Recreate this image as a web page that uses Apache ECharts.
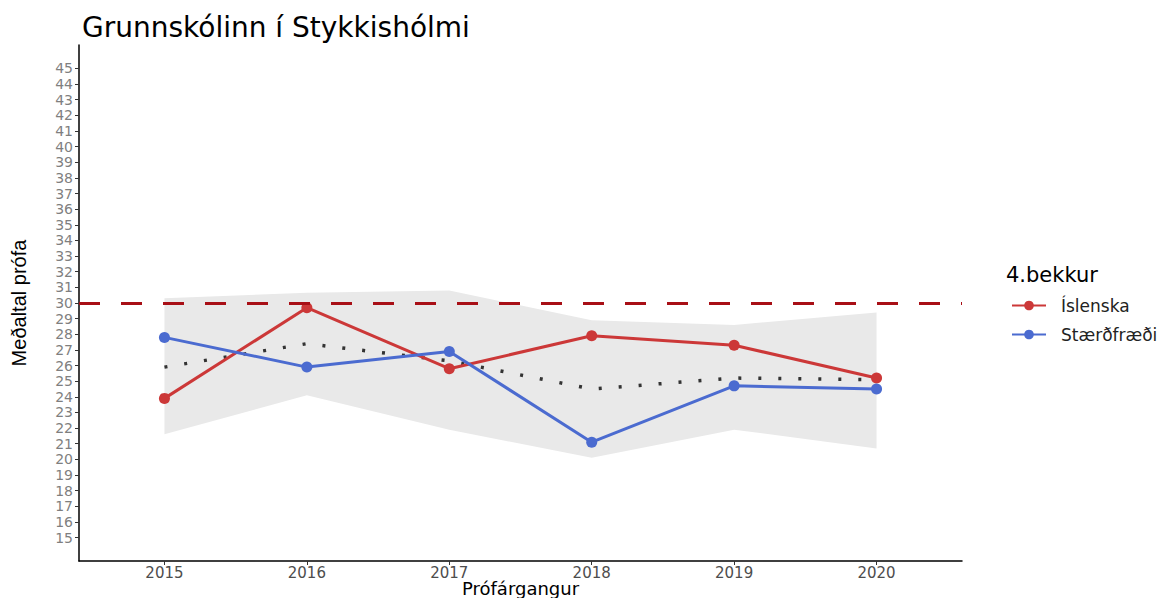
<!DOCTYPE html>
<html>
<head>
<meta charset="utf-8">
<script src="https://cdn.jsdelivr.net/npm/echarts@6/dist/echarts.min.js"></script>
<style>
  html, body { margin: 0; padding: 0; background: #fff; }
  #chart { width: 1173px; height: 598px; }
</style>
</head>
<body>
<div id="chart"></div>
<script>
var years = [2015, 2016, 2017, 2018, 2019, 2020];
var yTicks = [15, 16, 17, 18, 19, 20, 21, 22, 23, 24, 25, 26, 27, 28, 29, 30, 31, 32, 33, 34, 35, 36, 37, 38, 39, 40, 41, 42, 43, 44, 45];
var islenska = [23.9, 29.7, 25.8, 27.9, 27.3, 25.2];
var staerdfraedi = [27.8, 25.9, 26.9, 21.1, 24.7, 24.5];
var landsmedaltal = [25.9, 27.4, 26.3, 24.5, 25.2, 25.1];
var bandLower = [21.6, 24.1, 21.9, 20.1, 21.9, 20.7];
var bandUpper = [30.3, 30.65, 30.8, 28.9, 28.6, 29.4];
var markLevel = 30;

(function() {
  var font = 'DejaVu Sans';
  var red = '#cc3838';
  var blue = '#4b6bd0';

  function pairs(vals) {
    return years.map(function(y, i) { return [y, vals[i]]; });
  }

  // grey band: one polygon, upper edge left->right then lower edge back
  function renderBand(params, api) {
    if (params.dataIndex !== 0) return null;
    var pts = [];
    years.forEach(function(y, i) { pts.push(api.coord([y, bandUpper[i]])); });
    for (var i = years.length - 1; i >= 0; i--) pts.push(api.coord([years[i], bandLower[i]]));
    return { type: 'polygon', shape: { points: pts }, style: { fill: '#e9e9e9' }, silent: true };
  }

  var chart = echarts.init(document.getElementById('chart'), null, { renderer: 'svg' });
  chart.setOption({
    animation: false,
    title: [
      { text: 'Grunnskólinn í Stykkishólmi', left: 77, top: 8,
        textStyle: { fontFamily: font, fontSize: 28, fontWeight: 'normal', color: '#000' } },
      { text: '4.bekkur', left: 1001, top: 259,
        textStyle: { fontFamily: font, fontSize: 21, fontWeight: 'normal', color: '#000' } }
    ],
    legend: {
      data: ['Íslenska', 'Stærðfræði'],
      orient: 'vertical',
      left: 1006, top: 292,
      itemWidth: 34, itemHeight: 12, itemGap: 12,
      textStyle: { fontFamily: font, fontSize: 17, color: '#222', padding: [0, 0, 0, 10] }
    },
    grid: { left: 79, right: 211, top: 45, bottom: 37, outerBoundsMode: 'none' },
    xAxis: {
      type: 'value', min: 2014.4, max: 2020.6,
      name: 'Prófárgangur', nameLocation: 'middle', nameGap: 19, nameMoveOverlap: false,
      nameTextStyle: { fontFamily: font, fontSize: 18, lineHeight: 16, color: '#000' },
      axisLine: { lineStyle: { color: '#000', width: 1.5 } },
      axisTick: { customValues: years, length: 4, lineStyle: { color: '#333' } },
      axisLabel: { customValues: years, fontFamily: font, fontSize: 15, lineHeight: 14, color: '#4d4d4d', margin: 5,
        formatter: function(v) { return String(v); } },
      splitLine: { show: false }
    },
    yAxis: {
      type: 'value', min: 13.5, max: 46.5,
      name: 'Meðaltal prófa', nameLocation: 'middle', nameGap: 50, nameRotate: 90,
      nameTextStyle: { fontFamily: 'Liberation Sans Narrow, Liberation Sans', fontSize: 20, color: '#000' },
      axisLine: { lineStyle: { color: '#000', width: 1.5 } },
      axisTick: { customValues: yTicks, length: 4, lineStyle: { color: '#333' } },
      axisLabel: { customValues: yTicks, fontFamily: font, fontSize: 14, lineHeight: 14, color: '#7f7f7f', margin: 6 },
      splitLine: { show: false }
    },
    series: [
      {
        name: 'band', type: 'custom', renderItem: renderBand,
        data: years.map(function(y, i) { return [y, bandLower[i], bandUpper[i]]; }),
        encode: { x: 0, y: [1, 2] }, silent: true, z: 1
      },
      {
        name: 'Landsmeðaltal', type: 'line', data: pairs(landsmedaltal), symbol: 'none',
        lineStyle: { color: '#333', width: 3.5, type: [3, 17] }, z: 3,
        markLine: {
          silent: true, symbol: 'none', label: { show: false },
          lineStyle: { color: '#a80f16', width: 3, type: [21, 21] },
          data: [{ yAxis: markLevel }]
        }
      },
      {
        name: 'Íslenska', type: 'line', data: pairs(islenska),
        symbol: 'circle', symbolSize: 11, color: red,
        lineStyle: { color: red, width: 3 }, itemStyle: { color: red }, z: 4
      },
      {
        name: 'Stærðfræði', type: 'line', data: pairs(staerdfraedi),
        symbol: 'circle', symbolSize: 11, color: blue,
        lineStyle: { color: blue, width: 3 }, itemStyle: { color: blue }, z: 4
      }
    ]
  });
  window.addEventListener('resize', function() { chart.resize(); });
})();
</script>
</body>
</html>
